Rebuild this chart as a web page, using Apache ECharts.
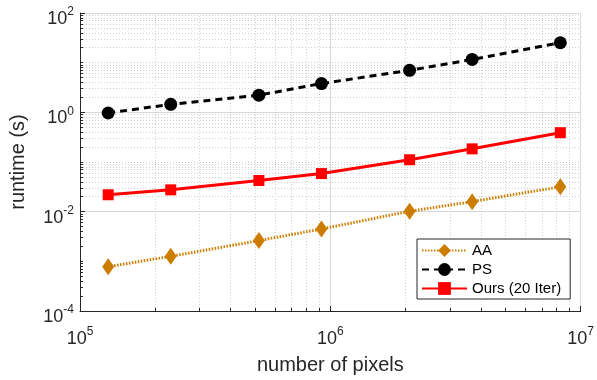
<!DOCTYPE html>
<html>
<head>
<meta charset="utf-8">
<script src="https://cdn.jsdelivr.net/npm/echarts@6/dist/echarts.min.js"></script>
<style>
html, body { margin: 0; padding: 0; background: #fff; }
#chart { width: 597px; height: 380px; }
</style>
</head>
<body>
<div id="chart"></div>
<script>
// image sizes (number of pixels) for the 7 resolutions
var pixels = [129600, 230400, 518400, 921600, 2073600, 3686400, 8294400];
var aaTime = [0.00078, 0.00126, 0.00262, 0.00447, 0.0102, 0.0159, 0.0316];
var psTime = [0.97, 1.45, 2.22, 3.8, 7.0, 11.6, 25.2];
var oursTime = [0.0219, 0.0275, 0.0424, 0.0585, 0.111, 0.184, 0.389];
var seriesNames = ['AA', 'PS', 'Ours (20 Iter)'];

var xMin = 1e5, xMax = 1e7, yMin = 1e-4, yMax = 1e2;
var font = 'Liberation Sans, Arial, sans-serif';
var axisColor = '#262626';

var myChart = echarts.init(document.getElementById('chart'));

function pairs(ys) {
    return pixels.map(function (x, i) { return [x, ys[i]]; });
}

// minor grid / tick values (matlab style log axes)
var minorX = [], minorY = [];
for (var e = 5; e < 7; e++) {
    for (var k = 2; k < 10; k++) minorX.push(k * Math.pow(10, e));
}
for (var e2 = -4; e2 < 2; e2++) {
    for (var k2 = 2; k2 < 10; k2++) minorY.push(k2 * Math.pow(10, e2));
    if (e2 % 2 !== 0) minorY.push(Math.pow(10, e2));
}

var xTickEnd = xMin * Math.pow(10, 3 / 252.5);   // ~3px inward
var yTickEnd = yMin * Math.pow(10, 3 / 50.2);

var gridLines = [];
minorX.forEach(function (v) { gridLines.push({ xAxis: v }); });
minorY.forEach(function (v) { gridLines.push({ yAxis: v }); });

var minorTicks = [];
minorX.forEach(function (v) {
    minorTicks.push([{ coord: [v, yMin] }, { coord: [v, yTickEnd] }]);
});
minorY.forEach(function (v) {
    minorTicks.push([{ coord: [xMin, v] }, { coord: [xTickEnd, v] }]);
});

function powLabel(v) {
    var e = Math.round(Math.log10(v));
    return '{b|10}{s|' + e + '}';
}
var powRich = {
    b: { fontSize: 18, fontFamily: font, color: axisColor, lineHeight: 22, verticalAlign: 'bottom' },
    s: { fontSize: 12, fontFamily: font, color: axisColor, lineHeight: 12, verticalAlign: 'top' }
};

var option = {
    animation: false,
    backgroundColor: '#fff',
    grid: { left: 78, right: 14, top: 13, bottom: 66 },
    legend: {
        data: seriesNames,
        orient: 'vertical',
        left: 417,
        top: 239,
        padding: [4, 9, 3, 4],
        itemGap: 4,
        itemWidth: 45,
        itemHeight: 16,
        backgroundColor: '#fff',
        borderColor: axisColor,
        borderWidth: 1,
        textStyle: { fontSize: 15, fontFamily: font, color: '#000' }
    },
    xAxis: {
        type: 'log',
        logBase: 10,
        min: xMin,
        max: xMax,
        interval: 1,
        name: 'number of pixels',
        nameLocation: 'middle',
        nameGap: 44,
        nameTextStyle: { fontSize: 20, fontFamily: font, color: axisColor },
        axisLine: { onZero: false, lineStyle: { color: axisColor, width: 1 } },
        axisTick: { inside: true, length: 5, lineStyle: { color: axisColor } },
        axisLabel: { margin: 15, formatter: powLabel, rich: powRich },
        splitLine: { show: true, lineStyle: { color: '#d9d9d9', width: 1 } }
    },
    yAxis: {
        type: 'log',
        logBase: 10,
        min: yMin,
        max: yMax,
        interval: 2,
        name: 'runtime (s)',
        nameLocation: 'middle',
        nameGap: 52,
        nameRotate: 90,
        nameTextStyle: { fontSize: 20, fontFamily: font, color: axisColor },
        axisLine: { onZero: false, lineStyle: { color: axisColor, width: 1 } },
        axisTick: { inside: true, length: 5, lineStyle: { color: axisColor } },
        axisLabel: { margin: 6, padding: [8, 0, 0, 0], formatter: powLabel, rich: powRich },
        splitLine: { show: true, lineStyle: { color: '#d9d9d9', width: 1 } }
    },
    series: [
        {
            name: 'grid',
            type: 'line',
            data: [],
            z: 1,
            silent: true,
            markLine: {
                z: 0,
                silent: true,
                symbol: 'none',
                label: { show: false },
                lineStyle: { color: '#d0d0d0', width: 1, type: [1, 2] },
                data: gridLines
            }
        },
        {
            name: 'ticks',
            type: 'line',
            data: [],
            z: 1,
            silent: true,
            markLine: {
                z: 1,
                silent: true,
                symbol: 'none',
                label: { show: false },
                lineStyle: { color: axisColor, width: 1, type: 'solid' },
                data: minorTicks
            }
        },
        {
            name: seriesNames[0],
            type: 'line',
            data: pairs(aaTime),
            symbol: 'diamond',
            symbolSize: [12, 17],
            color: '#cc7d00',
            itemStyle: { color: '#cc7d00', borderWidth: 0 },
            lineStyle: { color: '#cc7d00', width: 3, type: [1.5, 1.5] }
        },
        {
            name: seriesNames[1],
            type: 'line',
            data: pairs(psTime),
            symbol: 'circle',
            symbolSize: 13,
            color: '#000',
            itemStyle: { color: '#000', borderWidth: 0 },
            lineStyle: { color: '#000', width: 3, type: [7, 5] }
        },
        {
            name: seriesNames[2],
            type: 'line',
            data: pairs(oursTime),
            symbol: 'rect',
            symbolSize: 11,
            color: '#ff0000',
            itemStyle: { color: '#ff0000', borderWidth: 0 },
            lineStyle: { color: '#ff0000', width: 3 }
        }
    ]
};

myChart.setOption(option);
</script>
</body>
</html>
